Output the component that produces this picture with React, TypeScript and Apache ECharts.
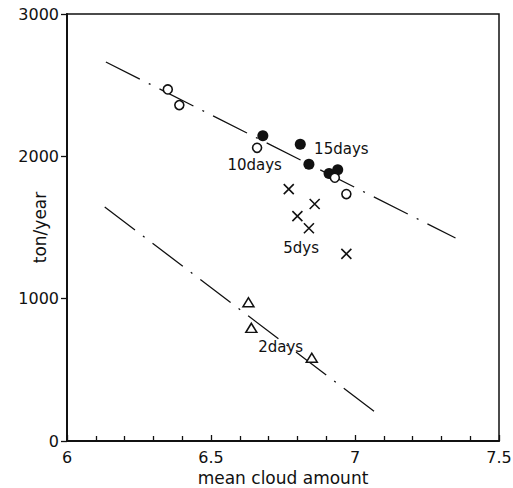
import React, { useEffect, useRef } from "react";
import * as echarts from "echarts";

// Data
const tenDays: [number, number][] = [
  [6.35, 2470],
  [6.39, 2360],
  [6.66, 2060],
  [6.93, 1850],
  [6.97, 1735],
];
const fifteenDays: [number, number][] = [
  [6.68, 2145],
  [6.81, 2085],
  [6.84, 1945],
  [6.91, 1880],
  [6.94, 1905],
];
const fiveDays: [number, number][] = [
  [6.77, 1770],
  [6.86, 1665],
  [6.8, 1580],
  [6.84, 1495],
  [6.97, 1315],
];
const twoDays: [number, number][] = [
  [6.63, 975],
  [6.64, 795],
  [6.85, 585],
];
const upperFit: [number, number][] = [
  [6.135, 2663],
  [7.349, 1426],
];
const lowerFit: [number, number][] = [
  [6.131, 1644],
  [7.083, 183],
];
const groupLabels: { name: string; value: [number, number] }[] = [
  { name: "10days", value: [6.557, 1939] },
  { name: "15days", value: [6.858, 2052] },
  { name: "5dys", value: [6.751, 1356] },
  { name: "2days", value: [6.664, 660] },
];
const xTicks = { min: 6, max: 7.5, interval: 0.5 };
const yTicks = { min: 0, max: 3000, interval: 1000 };

const FONT = "DejaVu Sans";
const INK = "#111";

export default function App() {
  const ref = useRef<HTMLDivElement>(null);
  useEffect(() => {
    if (!ref.current) return;
    const chart = echarts.init(ref.current, undefined, { renderer: "svg" });
    const fitLine = (data: [number, number][]) => ({
      type: "line",
      data,
      symbol: "none",
      silent: true,
      lineStyle: { color: INK, width: 1.3, type: [38, 10, 2, 10] },
      z: 1,
    });
    chart.setOption({
      animation: false,
      backgroundColor: "#fff",
      grid: {
        left: 67,
        right: 14,
        top: 14,
        bottom: 47,
        outerBoundsMode: "none",
        containLabel: false,
        show: true,
        borderColor: INK,
        borderWidth: 1.5,
      },
      xAxis: {
        type: "value",
        min: xTicks.min,
        max: xTicks.max,
        interval: xTicks.interval,
        name: "mean cloud amount",
        nameLocation: "middle",
        nameGap: 25,
        nameTextStyle: { fontFamily: FONT, fontSize: 17, color: INK },
        axisLine: { show: true, lineStyle: { color: INK, width: 2 } },
        axisTick: { show: true, inside: true, length: 6, lineStyle: { color: INK, width: 1.3 } },
        minorTick: { show: true, splitNumber: 5, length: 5, lineStyle: { color: INK, width: 1.3 } },
        splitLine: { show: false },
        axisLabel: {
          fontFamily: FONT,
          fontSize: 16,
          color: INK,
          margin: 8,
          formatter: (v: number) => String(v),
        },
      },
      yAxis: {
        type: "value",
        min: yTicks.min,
        max: yTicks.max,
        interval: yTicks.interval,
        name: "ton/year",
        nameLocation: "middle",
        nameGap: 19,
        nameMoveOverlap: false,
        nameTextStyle: { fontFamily: FONT, fontSize: 17, color: INK },
        axisLine: { show: true, lineStyle: { color: INK, width: 2 } },
        axisTick: { show: true, inside: false, length: 6, lineStyle: { color: INK, width: 1.3 } },
        splitLine: { show: false },
        axisLabel: {
          fontFamily: FONT,
          fontSize: 16,
          color: INK,
          margin: 8,
          formatter: (v: number) => String(v),
        },
      },
      series: [
        fitLine(upperFit),
        fitLine(lowerFit),
        {
          type: "scatter",
          data: tenDays,
          symbol: "circle",
          symbolSize: 9,
          itemStyle: { color: "#fff", borderColor: INK, borderWidth: 1.6, opacity: 1 },
          z: 3,
        },
        {
          type: "scatter",
          data: fifteenDays,
          symbol: "circle",
          symbolSize: 11,
          itemStyle: { color: INK, opacity: 1 },
          z: 2,
        },
        {
          type: "scatter",
          data: fiveDays,
          symbol: "path://M0,0L10,10M10,0L0,10",
          symbolSize: 10,
          itemStyle: { color: "rgba(0,0,0,0)", borderColor: INK, borderWidth: 1.6, opacity: 1 },
          z: 3,
        },
        {
          type: "scatter",
          data: twoDays,
          symbol: "triangle",
          symbolSize: [11, 9],
          itemStyle: { color: "#fff", borderColor: INK, borderWidth: 1.5, opacity: 1 },
          z: 3,
        },
        {
          type: "scatter",
          data: groupLabels,
          symbolSize: 0,
          silent: true,
          itemStyle: { opacity: 1 },
          label: {
            show: true,
            position: "right",
            distance: 0,
            formatter: (p: any) => p.name,
            fontFamily: FONT,
            fontSize: 15,
            color: INK,
            opacity: 1,
          },
          z: 4,
        },
      ],
    });
    return () => chart.dispose();
  }, []);
  return (
    <div
      ref={ref}
      style={{ position: "fixed", left: 0, top: 0, width: 513, height: 488, background: "#fff" }}
    />
  );
}
